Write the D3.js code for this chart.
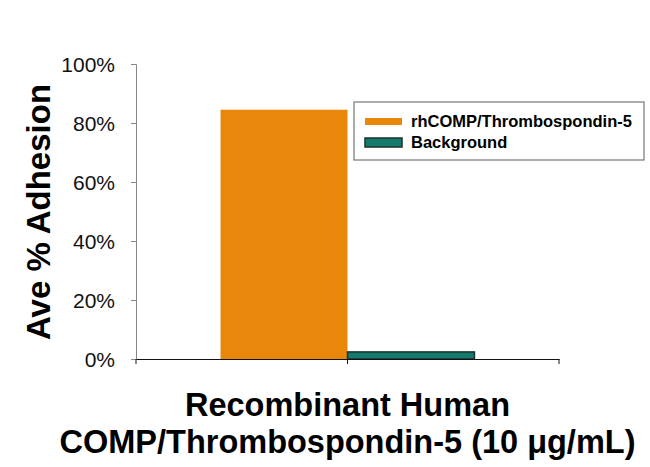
<!DOCTYPE html>
<html>
<head>
<meta charset="utf-8">
<script src="https://cdn.jsdelivr.net/npm/d3@7"></script>
<style>
  body { margin: 0; background: #fff; }
  text { font-family: "Liberation Sans", Arial, sans-serif; }
</style>
</head>
<body>
<div id="plot"></div>
<script>
// data
const categories = ["Recombinant Human COMP/Thrombospondin-5 (10 \u03bcg/mL)"];
const seriesNames = ["rhCOMP/Thrombospondin-5", "Background"];
const adhesion = [84.5, 2.4];
const yTicks = [0, 20, 40, 60, 80, 100];
const colors = ["#E8870A", "#137A6E"];
const strokes = ["none", "#1f2f2d"];

const width = 650, height = 467;
const margin = { top: 64, right: 91, bottom: 108, left: 136 };
const innerW = width - margin.left - margin.right;
const innerH = height - margin.top - margin.bottom;

const svg = d3.select("#plot")
  .append("svg")
  .attr("width", width)
  .attr("height", height);

const g = svg.append("g")
  .attr("transform", `translate(${margin.left},${margin.top})`);

const x = d3.scaleBand()
  .domain(categories)
  .range([0, innerW])
  .paddingOuter(0.333)
  .paddingInner(0);

const xs = d3.scaleBand()
  .domain(seriesNames)
  .range([0, x.bandwidth()]);

const y = d3.scaleLinear()
  .domain([0, 100])
  .range([innerH, 0]);

// y axis
const yAxis = g.append("g")
  .call(d3.axisLeft(y).tickValues(yTicks).tickSize(5).tickPadding(16).tickFormat(d => d + "%"));
yAxis.select(".domain").attr("stroke", "#888");
yAxis.selectAll(".tick line").attr("stroke", "#888");
yAxis.selectAll("text")
  .attr("font-size", 21)
  .attr("fill", "#111")
  .attr("dy", "0.36em");

// bars
const data = seriesNames.map((s, i) => ({ series: s, value: adhesion[i], cat: categories[0] }));
g.selectAll(".bar")
  .data(data)
  .enter()
  .append("rect")
  .attr("class", "bar")
  .attr("x", d => x(d.cat) + xs(d.series))
  .attr("y", d => y(d.value))
  .attr("width", xs.bandwidth())
  .attr("height", d => innerH - y(d.value))
  .attr("fill", (d, i) => colors[i])
  .attr("stroke", (d, i) => strokes[i])
  .attr("stroke-width", 1.5);

// x axis
const xAxis = g.append("g")
  .attr("transform", `translate(0,${innerH})`)
  .call(d3.axisBottom(x).tickSize(0).tickFormat(""));
xAxis.select(".domain").attr("stroke", "#111");
[0, x(categories[0]) + x.bandwidth() / 2, innerW].forEach(px => {
  xAxis.append("line")
    .attr("x1", px).attr("x2", px)
    .attr("y1", 0).attr("y2", 5)
    .attr("stroke", "#111");
});

// y label
svg.append("text")
  .attr("transform", `translate(50,212) rotate(-90)`)
  .attr("text-anchor", "middle")
  .attr("font-size", 33)
  .attr("font-weight", "bold")
  .attr("fill", "#000")
  .text("Ave % Adhesion");

// x label
const cx = margin.left + x(categories[0]) + x.bandwidth() / 2;
svg.append("text")
  .attr("x", cx).attr("y", 416)
  .attr("text-anchor", "middle")
  .attr("font-size", 32.5)
  .attr("font-weight", "bold")
  .text("Recombinant Human");
svg.append("text")
  .attr("x", cx).attr("y", 453)
  .attr("text-anchor", "middle")
  .attr("font-size", 32.5)
  .attr("font-weight", "bold")
  .text("COMP/Thrombospondin-5 (10 \u03bcg/mL)");

// legend
const leg = svg.append("g").attr("transform", "translate(354,102)");
leg.append("rect")
  .attr("width", 290).attr("height", 58)
  .attr("fill", "#fff")
  .attr("stroke", "#777")
  .attr("stroke-width", 1.2);
seriesNames.forEach((s, i) => {
  const row = leg.append("g").attr("transform", `translate(11,${16 + i * 21})`);
  row.append("rect")
    .attr("x", 0).attr("y", i === 0 ? 0 : -1)
    .attr("width", 37).attr("height", i === 0 ? 7 : 9)
    .attr("fill", colors[i])
    .attr("stroke", strokes[i])
    .attr("stroke-width", 1.5);
  row.append("text")
    .attr("x", 46).attr("y", 3)
    .attr("dy", "0.35em")
    .attr("font-size", 16.5)
    .attr("font-weight", "bold")
    .text(s);
});
</script>
</body>
</html>
